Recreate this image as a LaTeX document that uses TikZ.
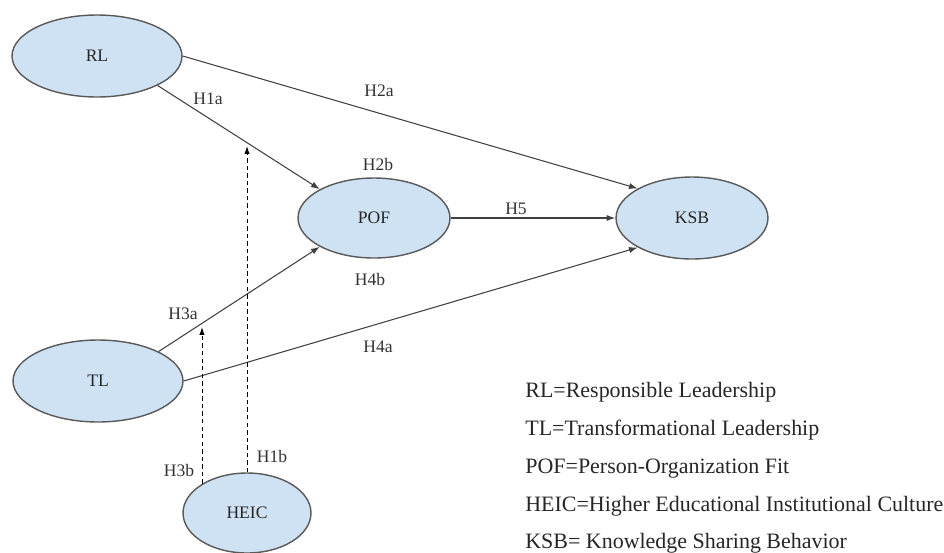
\documentclass[tikz,border=0pt]{standalone}
\usepackage{fontspec}
\setmainfont{LiberationSerif}[Extension=.ttf, UprightFont=*-Regular, BoldFont=*-Bold]
\usetikzlibrary{shapes.geometric,arrows.meta}

\definecolor{ovalfill}{HTML}{CFE2F3}
\definecolor{ovaldraw}{HTML}{595959}
\definecolor{linegray}{HTML}{404040}

\tikzset{
  construct/.style={ellipse, draw=ovaldraw, fill=ovalfill, line width=0.8pt,
    inner sep=0pt, text=black!85, font=\fontsize{10}{12}\selectfont},
  path/.style={draw=linegray, line width=0.6pt, -{Latex[length=5pt,width=3.5pt]}},
  modpath/.style={draw=black, line width=0.5pt, dash pattern=on 2.5pt off 1.8pt, -{Latex[length=4.5pt,width=3pt]}},
  hyp/.style={inner sep=0pt, text=black!80, font=\fontsize{10}{12}\selectfont},
  legend/.style={anchor=base west, inner sep=0pt, text=black!85, font=\fontsize{12.5}{15}\selectfont}
}

\begin{document}
\begin{tikzpicture}[x=0.02cm, y=-0.02cm]
  \useasboundingbox (0,0) rectangle (944,552);

  % Constructs
  \node[construct, minimum width=3.4cm, minimum height=1.64cm] (RL) at (97,56) {RL};
  \node[construct, minimum width=3.4cm, minimum height=1.64cm] (TL) at (98,381) {TL};
  \node[construct, minimum width=3.04cm, minimum height=1.6cm] (POF) at (374,218) {POF};
  \node[construct, minimum width=3.04cm, minimum height=1.64cm] (KSB) at (692,218) {KSB};
  \node[construct, minimum width=2.56cm, minimum height=1.6cm] (HEIC) at (247,513) {HEIC};

  % Direct paths
  \draw[path] (RL.east) -- (KSB.north west);
  \draw[path] (RL.south east) -- (POF.north west);
  \draw[path] (POF.east) -- (KSB.west);
  \draw[path] (TL.north east) -- (POF.south west);
  \draw[path] (TL.east) -- (KSB.south west);

  % Moderation by HEIC
  \coordinate (m1) at (247,146);
  \coordinate (m3) at (203,327);
  \draw[modpath] (HEIC.north) -- (HEIC.north |- m1);
  \draw[modpath] (HEIC.147) -- (HEIC.147 |- m3);

  % Hypothesis labels
  \node[hyp] (h1a) at (208,99) {H1a};
  \node[hyp] (h2a) at (379,91) {H2a};
  \node[hyp] (h2b) at (378,164) {H2b};
  \node[hyp] (h5) at (516,209) {H5};
  \node[hyp] (h4b) at (370,279) {H4b};
  \node[hyp] (h3a) at (183,314) {H3a};
  \node[hyp] (h4a) at (378,347) {H4a};
  \node[hyp] (h1b) at (272,456) {H1b};
  \node[hyp] (h3b) at (179,470) {H3b};

  % Legend
  \node[legend] (leg1) at (525,397) {RL=Responsible Leadership};
  \node[legend] (leg2) at (525,435) {TL=Transformational Leadership};
  \node[legend] (leg3) at (525,473) {POF=Person-Organization Fit};
  \node[legend] (leg4) at (525,511) {HEIC=Higher Educational Institutional Culture};
  \node[legend] (leg5) at (525,548) {KSB= Knowledge Sharing Behavior};
\end{tikzpicture}
\end{document}
